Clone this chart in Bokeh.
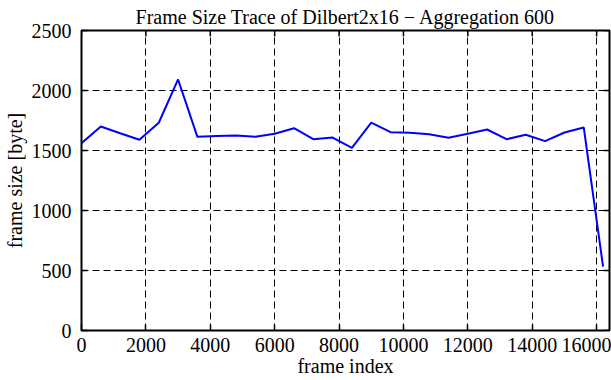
import math
from bokeh.plotting import figure
from bokeh.models import Range1d, FixedTicker
from bokeh.embed import file_html
from bokeh.resources import INLINE

# data
frame_index = [0, 600, 1200, 1800, 2400, 3000, 3600, 4200, 4800, 5400, 6000, 6600,
               7200, 7800, 8400, 9000, 9600, 10200, 10800, 11400, 12000, 12600,
               13200, 13800, 14400, 15000, 15600, 16200]
frame_size = [1561, 1700, 1644, 1589, 1731, 2092, 1614, 1620, 1625, 1614, 1639, 1686,
              1594, 1608, 1522, 1733, 1653, 1647, 1636, 1606, 1639, 1675,
              1594, 1631, 1578, 1650, 1692, 533]
x_ticks = [0, 2000, 4000, 6000, 8000, 10000, 12000, 14000, 16000]
y_ticks = [0, 500, 1000, 1500, 2000, 2500]
x_min, x_max = 0, 16400
y_min, y_max = 0, 2500
title_text = "Frame Size Trace of Dilbert2x16 \u2212 Aggregation 600"

FONT = "Liberation Serif"
FS = "20px"

p = figure(width=611, height=380, output_backend="svg", toolbar_location=None,
           x_range=Range1d(x_min, x_max), y_range=Range1d(y_min, y_max),
           min_border_left=81, min_border_right=2, min_border_top=30, min_border_bottom=50)

p.title.text = title_text
p.title.text_font = FONT
p.title.text_font_size = FS
p.title.text_font_style = "normal"
p.title.text_color = "black"
p.title.align = "center"
p.title.standoff = 6
p.title.offset = 0

p.line(frame_index, frame_size, line_color="#0000ff", line_width=2)

p.outline_line_color = "black"
p.outline_line_width = 2
p.background_fill_color = "white"
p.border_fill_color = "white"

for ax in [p.xaxis[0], p.yaxis[0]]:
    ax.major_tick_in = 6
    ax.major_tick_out = 0
    ax.minor_tick_line_color = None
    ax.axis_line_color = None
    ax.major_tick_line_color = "black"
    ax.major_tick_line_width = 1.5
    ax.major_label_text_font = FONT
    ax.major_label_text_font_size = FS
    ax.major_label_text_color = "black"
    ax.axis_label_text_font = FONT
    ax.axis_label_text_font_size = FS
    ax.axis_label_text_font_style = "normal"
    ax.axis_label_text_color = "black"

p.xaxis[0].ticker = FixedTicker(ticks=x_ticks)
p.yaxis[0].ticker = FixedTicker(ticks=y_ticks)
p.xaxis[0].axis_label = "frame index"
p.yaxis[0].axis_label = "frame size [byte]"
p.xaxis[0].major_label_standoff = 7
p.xaxis[0].axis_label_standoff = 0
p.yaxis[0].major_label_standoff = 10
p.yaxis[0].axis_label_standoff = 3

# mirrored inward ticks on top and right
p.ray(x=x_ticks, y=[y_max] * len(x_ticks), length=6, length_units="screen",
      angle=-math.pi / 2, line_color="black", line_width=1.5)
p.ray(x=[x_max] * len(y_ticks), y=y_ticks, length=6, length_units="screen",
      angle=math.pi, line_color="black", line_width=1.5)

p.xgrid.ticker = FixedTicker(ticks=x_ticks)
p.ygrid.ticker = FixedTicker(ticks=y_ticks)
for g in [p.xgrid[0], p.ygrid[0]]:
    g.grid_line_color = "black"
    g.grid_line_dash = "7 4"
    g.grid_line_width = 1
    g.grid_line_alpha = 1.0

open("out.html", "w").write(file_html(p, INLINE))
